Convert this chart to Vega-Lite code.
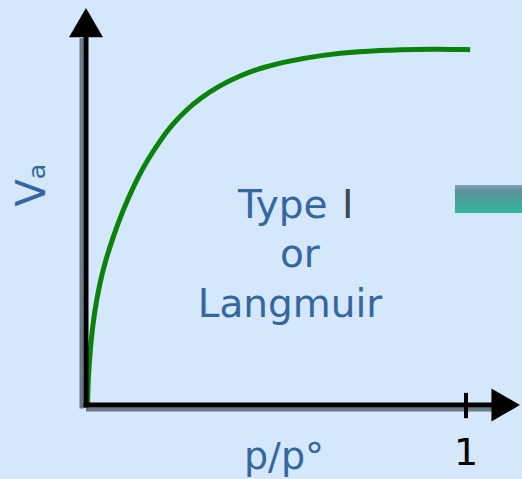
{
  "$schema": "https://vega.github.io/schema/vega-lite/v6.json",
  "width": 522,
  "height": 479,
  "autosize": {"type": "fit", "contains": "padding"},
  "padding": 0,
  "background": "#d4e7fb",
  "config": {"view": {"stroke": null}},
  "encoding": {
    "x": {"field": "x", "type": "quantitative", "axis": null,
          "scale": {"domain": [-0.2263, 1.1474], "nice": false, "zero": false}},
    "y": {"field": "y", "type": "quantitative", "axis": null,
          "scale": {"domain": [-0.2079, 1.1376], "nice": false, "zero": false}}
  },
  "layer": [
    {
      "data": {"values": [{"x": 0.971, "x2": 1.1474, "y": 0.539, "y2": 0.618}]},
      "mark": {"type": "rect", "color": {"gradient": "linear", "x1": 0, "y1": 0, "x2": 0, "y2": 1,
        "stops": [{"offset": 0, "color": "#86a0b8"}, {"offset": 0.22, "color": "#5b8f9b"}, {"offset": 1, "color": "#34b897"}]}},
      "encoding": {"x2": {"field": "x2"}, "y2": {"field": "y2"}}
    },
    {
      "data": {"values": [{"x": 0, "y": -0.01, "y2": 1.03}]},
      "mark": {"type": "rule", "color": "#6b7886", "strokeWidth": 4, "xOffset": -4.5},
      "encoding": {"y2": {"field": "y2"}}
    },
    {
      "data": {"values": [{"x": 0, "x2": 1.07, "y": 0}]},
      "mark": {"type": "rule", "color": "#6b7886", "strokeWidth": 4, "yOffset": 4.5},
      "encoding": {"x2": {"field": "x2"}}
    },
    {
      "data": {"values": [
        {"x": 0.004, "y": 0.0}, {"x": 0.006, "y": 0.08}, {"x": 0.012, "y": 0.17},
        {"x": 0.022, "y": 0.26}, {"x": 0.036, "y": 0.342}, {"x": 0.052, "y": 0.408},
        {"x": 0.070, "y": 0.467}, {"x": 0.090, "y": 0.527}, {"x": 0.112, "y": 0.583},
        {"x": 0.136, "y": 0.638}, {"x": 0.162, "y": 0.688}, {"x": 0.192, "y": 0.738},
        {"x": 0.226, "y": 0.787}, {"x": 0.264, "y": 0.829}, {"x": 0.304, "y": 0.864},
        {"x": 0.350, "y": 0.896}, {"x": 0.404, "y": 0.925}, {"x": 0.466, "y": 0.949},
        {"x": 0.537, "y": 0.967}, {"x": 0.624, "y": 0.983}, {"x": 0.713, "y": 0.993},
        {"x": 0.834, "y": 0.999}, {"x": 0.93, "y": 1.0}, {"x": 1.011, "y": 0.998}
      ]},
      "mark": {"type": "line", "color": "#0b820b", "strokeWidth": 5, "interpolate": "basis"}
    },
    {
      "data": {"values": [{"x": 0, "y": 0, "y2": 1.04}]},
      "mark": {"type": "rule", "color": "#000000", "strokeWidth": 5, "strokeCap": "square"},
      "encoding": {"y2": {"field": "y2"}}
    },
    {
      "data": {"values": [{"x": 0, "x2": 1.07, "y": 0}]},
      "mark": {"type": "rule", "color": "#000000", "strokeWidth": 5, "strokeCap": "square"},
      "encoding": {"x2": {"field": "x2"}}
    },
    {
      "data": {"values": [{"x": 0, "y": 1.074}]},
      "mark": {"type": "point", "shape": "triangle-up", "size": 1156, "filled": true, "color": "#000000", "opacity": 1}
    },
    {
      "data": {"values": [{"x": 1.1045, "y": 0}]},
      "mark": {"type": "point", "shape": "triangle-right", "size": 1089, "filled": true, "color": "#000000", "opacity": 1}
    },
    {
      "data": {"values": [{"x": 1.0, "y": -0.037, "y2": 0.034}]},
      "mark": {"type": "rule", "color": "#000000", "strokeWidth": 4},
      "encoding": {"y2": {"field": "y2"}}
    },
    {
      "data": {"values": [{"x": 0.4, "y": 0.525, "label": "Type"}]},
      "mark": {"type": "text", "align": "left", "baseline": "alphabetic", "font": "DejaVu Sans", "fontSize": 39, "color": "#3566a0"},
      "encoding": {"text": {"field": "label"}}
    },
    {
      "data": {"values": [{"x": 0.674, "y": 0.525, "label": "I"}]},
      "mark": {"type": "text", "align": "left", "baseline": "alphabetic", "font": "DejaVu Sans", "fontSize": 39, "color": "#3f4650"},
      "encoding": {"text": {"field": "label"}}
    },
    {
      "data": {"values": [{"x": 0.563, "y": 0.388, "label": "or"}, {"x": 0.537, "y": 0.247, "label": "Langmuir"}]},
      "mark": {"type": "text", "align": "center", "baseline": "alphabetic", "font": "DejaVu Sans", "fontSize": 39, "color": "#3566a0"},
      "encoding": {"text": {"field": "label"}}
    },
    {
      "data": {"values": [{"x": 0.521, "y": -0.180, "label": "p/p°"}]},
      "mark": {"type": "text", "align": "center", "baseline": "alphabetic", "font": "DejaVu Sans", "fontSize": 38, "color": "#3566a0"},
      "encoding": {"text": {"field": "label"}}
    },
    {
      "data": {"values": [{"x": -0.108, "y": 0.618, "label": "Vₐ"}]},
      "mark": {"type": "text", "align": "center", "baseline": "alphabetic", "angle": 270, "font": "DejaVu Sans", "fontSize": 40, "color": "#3566a0"},
      "encoding": {"text": {"field": "label"}}
    },
    {
      "data": {"values": [{"x": 1.0, "y": -0.169, "label": "1"}]},
      "mark": {"type": "text", "align": "center", "baseline": "alphabetic", "font": "DejaVu Sans", "fontSize": 38, "color": "#000000"},
      "encoding": {"text": {"field": "label"}}
    }
  ]
}
